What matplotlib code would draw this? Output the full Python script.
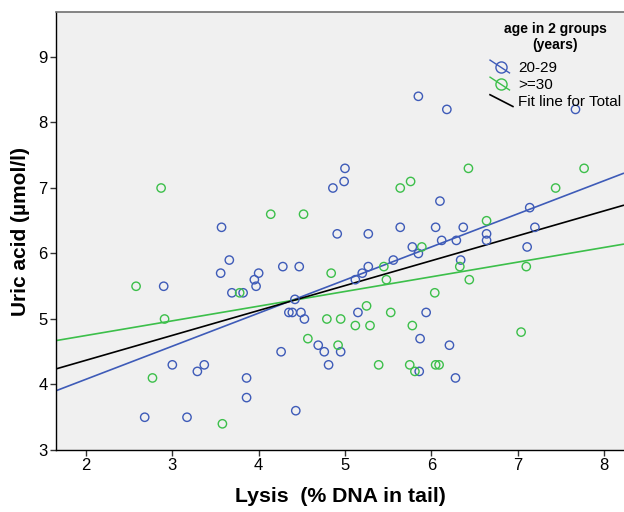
import matplotlib
matplotlib.use("Agg")
import matplotlib.pyplot as plt
import numpy as np
from matplotlib.lines import Line2D
from matplotlib.legend_handler import HandlerBase

plt.rcParams['font.family'] = ['Liberation Sans', 'DejaVu Sans']

# ---- data ----
blue_x = [7.67, 5.85, 6.18, 5.00, 4.99, 4.86, 6.10, 4.91, 5.27, 5.64, 6.05, 5.78, 5.85, 6.12, 6.29,
          5.56, 5.27, 5.20, 4.28, 4.47, 5.12, 4.00, 6.34, 7.14, 6.37, 6.64, 6.64, 7.20, 7.11, 3.57,
          3.66, 3.56, 3.95, 3.97, 2.90, 3.69, 3.82, 3.00, 3.37, 3.29, 3.86, 3.86, 2.68, 3.17, 4.42,
          4.35, 4.39, 4.49, 4.53, 5.15, 5.94, 5.87, 4.69, 6.21, 4.26, 4.76, 4.95, 4.81, 5.86, 6.28,
          4.43]
blue_y = [8.2, 8.4, 8.2, 7.3, 7.1, 7.0, 6.8, 6.3, 6.3, 6.4, 6.4, 6.1, 6.0, 6.2, 6.2,
          5.9, 5.8, 5.7, 5.8, 5.8, 5.6, 5.7, 5.9, 6.7, 6.4, 6.3, 6.2, 6.4, 6.1, 6.4,
          5.9, 5.7, 5.6, 5.5, 5.5, 5.4, 5.4, 4.3, 4.3, 4.2, 4.1, 3.8, 3.5, 3.5, 5.3,
          5.1, 5.1, 5.1, 5.0, 5.1, 5.1, 4.7, 4.6, 4.6, 4.5, 4.5, 4.5, 4.3, 4.2, 4.1,
          3.6]
green_x = [5.76, 5.64, 4.14, 4.52, 5.89, 5.45, 4.84, 5.48, 6.33, 6.43, 7.77, 7.44, 6.64, 7.10,
           6.44, 2.87, 2.58, 3.78, 2.91, 2.77, 3.58, 6.04, 5.25, 5.53, 4.79, 4.95, 5.12, 5.29,
           5.78, 4.57, 4.92, 5.39, 5.75, 6.05, 6.09, 5.81, 7.04]
green_y = [7.1, 7.0, 6.6, 6.6, 6.1, 5.8, 5.7, 5.6, 5.8, 7.3, 7.3, 7.0, 6.5, 5.8,
           5.6, 7.0, 5.5, 5.4, 5.0, 4.1, 3.4, 5.4, 5.2, 5.1, 5.0, 5.0, 4.9, 4.9,
           4.9, 4.7, 4.6, 4.3, 4.3, 4.3, 4.3, 4.2, 4.8]

fit_names = ['20-29', '>=30', 'Fit line for Total']
fit_intercepts = [3.07, 4.30, 3.61]
fit_slopes = [0.505, 0.224, 0.380]

x_ticks = [2, 3, 4, 5, 6, 7, 8]
y_ticks = [3, 4, 5, 6, 7, 8, 9]

BLUE = '#3E5BB8'
GREEN = '#3CBF4A'
BLACK = '#000000'

fig = plt.figure(figsize=(6.24, 5.12), dpi=100)
ax = fig.add_axes([56/624, 62/512, 1 - 56/624, 438/512])
ax.set_facecolor('#F0F0F0')

xmin, xmax = 1.6525, 8.232
ymin, ymax = 3.0, 9.687
ax.set_xlim(xmin, xmax)
ax.set_ylim(ymin, ymax)

ax.scatter(blue_x, blue_y, s=36, facecolors='none', edgecolors=BLUE, linewidths=1.0, zorder=3)
ax.scatter(green_x, green_y, s=36, facecolors='none', edgecolors=GREEN, linewidths=1.0, zorder=3)

xs = np.array([xmin, xmax])
for name, b0, b1, c in zip(fit_names, fit_intercepts, fit_slopes, [BLUE, GREEN, BLACK]):
    ax.plot(xs, b0 + b1 * xs, color=c, lw=1.2, zorder=2, solid_capstyle='butt')

ax.set_xticks(x_ticks)
ax.set_yticks(y_ticks)
ax.tick_params(axis='both', direction='out', length=4, width=1, labelsize=12, pad=2, color='#333333')
for s in ['left', 'bottom']:
    ax.spines[s].set_color('#000000')
    ax.spines[s].set_linewidth(1.0)
ax.spines['top'].set_color('#707070')
ax.spines['top'].set_linewidth(1.2)
ax.spines['right'].set_visible(False)

ax.set_xlabel('Lysis  (% DNA in tail)', fontsize=15.3, fontweight='bold', labelpad=10)
ax.set_ylabel('Uric acid (\u00b5mol/l)', fontsize=15, fontweight='bold', labelpad=6)


class HandlerCircleLine(HandlerBase):
    def __init__(self, color, circle=True):
        super().__init__()
        self.color = color
        self.circle = circle

    def create_artists(self, legend, orig_handle, xdescent, ydescent, width, height, fontsize, trans):
        x0, x1 = -xdescent, width - xdescent
        y0, y1 = -ydescent, height - ydescent
        arts = []
        if self.circle:
            ln = Line2D([x0, x1 - 0.15 * width], [y1 + 0.1 * height, y0 - 0.1 * height],
                        color=self.color, lw=1.0, transform=trans)
            arts.append(ln)
            cx = (x0 + x1) / 2
            cy = (y0 + y1) / 2
            mk = Line2D([cx], [cy], marker='o', ms=8, mfc='none', mec=self.color, mew=1.0,
                        linestyle='none', transform=trans)
            arts.append(mk)
        else:
            ln = Line2D([x0, x1], [y1 + 0.05 * height, y0 - 0.05 * height],
                        color=self.color, lw=1.2, transform=trans)
            arts.append(ln)
        return arts


h1 = Line2D([], [], color=BLUE)
h2 = Line2D([], [], color=GREEN)
h3 = Line2D([], [], color=BLACK)
leg = ax.legend([h1, h2, h3], fit_names, loc='upper right', bbox_to_anchor=(1.0, 0.985),
                frameon=False, fontsize=11, title='age in 2 groups\n(years)',
                title_fontproperties={'weight': 'bold', 'size': 10},
                handler_map={h1: HandlerCircleLine(BLUE), h2: HandlerCircleLine(GREEN),
                             h3: HandlerCircleLine(BLACK, circle=False)},
                handlelength=1.5, handletextpad=0.32, labelspacing=0.2, borderaxespad=0.0,
                borderpad=0.2)
leg.get_title().set_multialignment('center')
leg._legend_box.sep = 6.5

fig.savefig('out.png', dpi=100, facecolor='white')
